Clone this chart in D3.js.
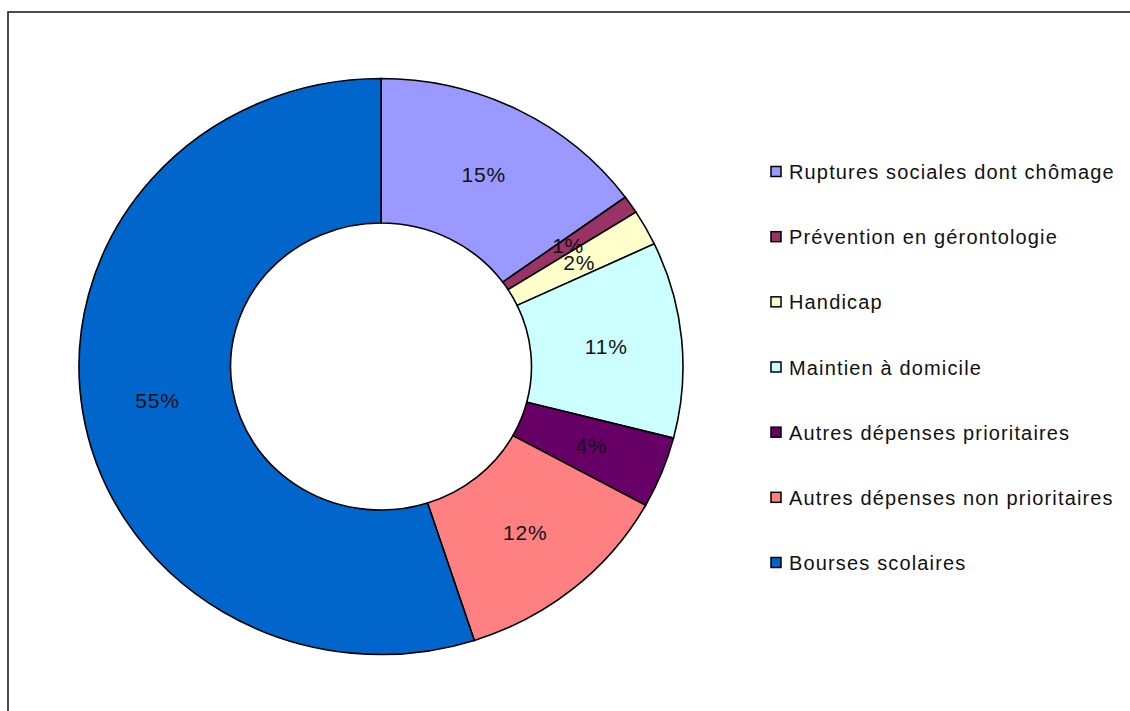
<!DOCTYPE html>
<html>
<head>
<meta charset="utf-8">
<script src="https://cdn.jsdelivr.net/npm/d3@7"></script>
<style>
  html, body { margin: 0; padding: 0; background: #fff; }
  svg { display: block; }
</style>
</head>
<body>
<svg id="chart" width="1130" height="711"></svg>
<script>
const categories = [
  "Ruptures sociales dont chômage",
  "Prévention en gérontologie",
  "Handicap",
  "Maintien à domicile",
  "Autres dépenses prioritaires",
  "Autres dépenses non prioritaires",
  "Bourses scolaires"
];
const values = [15, 1, 2, 11, 4, 12, 55];
const labels = ["15%", "1%", "2%", "11%", "4%", "12%", "55%"];
const colors = ["#9999FF", "#993366", "#FFFFCC", "#CCFFFF", "#660066", "#FF8080", "#0066CC"];

const svg = d3.select("#chart");

// outer frame (extends beyond the right and bottom edges)
svg.append("rect")
  .attr("x", 8).attr("y", 12)
  .attr("width", 1200).attr("height", 800)
  .attr("fill", "none").attr("stroke", "#222").attr("stroke-width", 1.6);

const cx = 381, cy = 366.5;
const rOuter = 302, rInner = 150.5;
const sy = 288 / 302;

const data = categories.map((c, i) => ({ name: c, value: values[i], label: labels[i], color: colors[i] }));
const pie = d3.pie().value(d => d.value).sort(null);
const arcs = pie(data);
const arc = d3.arc().innerRadius(rInner).outerRadius(rOuter);

const g = svg.append("g").attr("transform", `translate(${cx},${cy}) scale(1,${sy})`);
g.selectAll("path")
  .data(arcs)
  .join("path")
  .attr("d", arc)
  .attr("fill", d => d.data.color)
  .attr("stroke", "#000")
  .attr("stroke-width", 1.6)
  .attr("vector-effect", "non-scaling-stroke");

const lg = svg.append("g").attr("transform", `translate(${cx},${cy})`);
lg.selectAll("text")
  .data(arcs)
  .join("text")
  .attr("x", d => arc.centroid(d)[0])
  .attr("y", d => arc.centroid(d)[1] * sy)
  .attr("text-anchor", "middle")
  .attr("dominant-baseline", "central")
  .attr("font-family", "Liberation Sans, Arial, sans-serif")
  .attr("font-size", 21)
  .attr("letter-spacing", 0.8)
  .attr("fill", "#111")
  .text(d => d.data.label);

// legend
const legY = d3.scalePoint().domain(categories).range([172, 563]);
const leg = svg.append("g");
const items = leg.selectAll("g")
  .data(data)
  .join("g")
  .attr("transform", d => `translate(771,${legY(d.name)})`);
items.append("rect")
  .attr("x", 0).attr("y", -5.5)
  .attr("width", 10).attr("height", 10)
  .attr("fill", d => d.color)
  .attr("stroke", "#000").attr("stroke-width", 1.5);
items.append("text")
  .attr("x", 18).attr("y", 0)
  .attr("dominant-baseline", "central")
  .attr("font-family", "Liberation Sans, Arial, sans-serif")
  .attr("font-size", 20)
  .attr("letter-spacing", 1.15)
  .attr("fill", "#111")
  .text(d => d.name);
</script>
</body>
</html>
